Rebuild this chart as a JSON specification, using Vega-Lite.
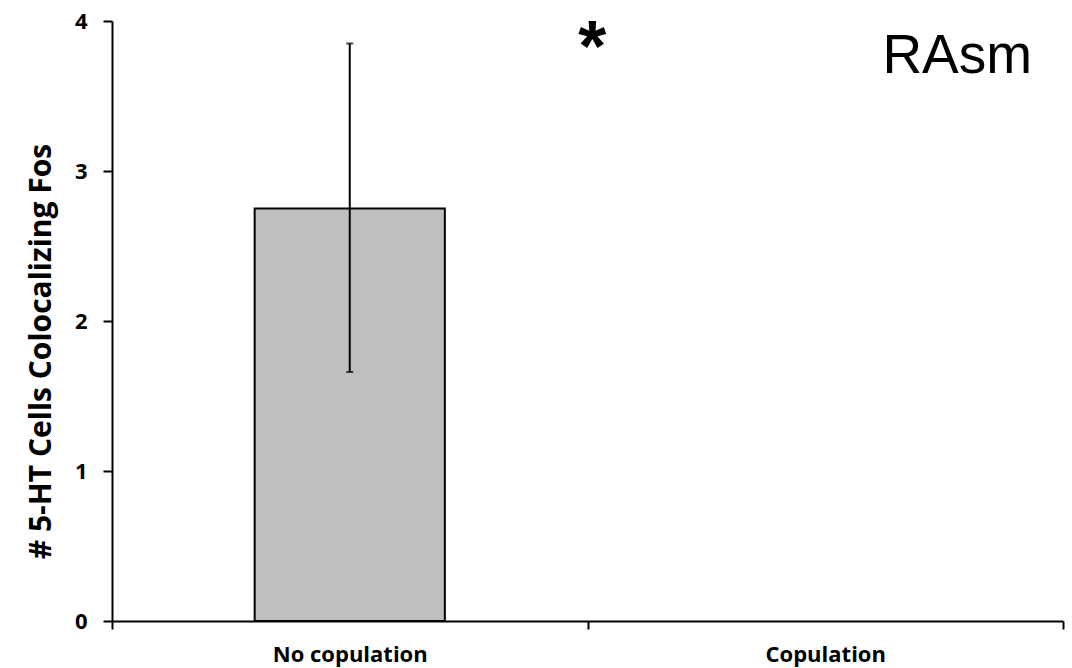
{
  "$schema": "https://vega.github.io/schema/vega-lite/v6.json",
  "width": 951,
  "height": 600,
  "autosize": {"type": "none"},
  "padding": {"left": 112, "top": 21, "right": 9, "bottom": 47},
  "background": "white",
  "config": {
    "view": {"stroke": null},
    "font": "Open Sans"
  },
  "data": {
    "values": [
      {"group": "No copulation", "mean": 2.75, "low": 1.66, "high": 3.85},
      {"group": "Copulation", "mean": 0, "low": 0, "high": 0}
    ]
  },
  "encoding": {
    "x": {
      "field": "group",
      "type": "nominal",
      "sort": ["No copulation", "Copulation"],
      "scale": {"paddingInner": 0, "paddingOuter": 0},
      "axis": {
        "title": null,
        "labelAngle": 0,
        "labelFont": "Open Sans",
        "labelFontWeight": "bold",
        "labelFontSize": 22,
        "labelColor": "black",
        "labelPadding": 15,
        "domainColor": "black",
        "domainWidth": 2,
        "tickColor": "black",
        "tickWidth": 2,
        "tickSize": 8,
        "tickBand": "extent"
      }
    }
  },
  "layer": [
    {
      "mark": {"type": "bar", "width": {"band": 0.4}, "fill": "#bfbfbf", "stroke": "black", "strokeWidth": 2},
      "transform": [{"filter": "datum.mean > 0"}],
      "encoding": {
        "y": {
          "field": "mean",
          "type": "quantitative",
          "scale": {"domain": [0, 4], "nice": false},
          "axis": {
            "title": "# 5-HT Cells Colocalizing Fos",
            "titleFont": "Open Sans",
            "titleFontWeight": "bold",
            "titleFontSize": 30,
            "titleColor": "black",
            "titleX": -56,
            "titleY": 330,
            "values": [0, 1, 2, 3, 4],
            "format": "d",
            "grid": false,
            "labelFont": "Open Sans",
            "labelFontWeight": "bold",
            "labelFontSize": 22,
            "labelColor": "black",
            "labelPadding": 16,
            "domainColor": "black",
            "domainWidth": 2,
            "tickColor": "black",
            "tickWidth": 2,
            "tickSize": 9
          }
        }
      }
    },
    {
      "mark": {"type": "rule", "color": "black", "strokeWidth": 2},
      "transform": [{"filter": "datum.mean > 0"}],
      "encoding": {
        "y": {"field": "low", "type": "quantitative"},
        "y2": {"field": "high"}
      }
    },
    {
      "mark": {"type": "tick", "color": "black", "thickness": 2, "size": 7},
      "transform": [{"filter": "datum.mean > 0"}],
      "encoding": {"y": {"field": "low", "type": "quantitative"}}
    },
    {
      "mark": {"type": "tick", "color": "black", "thickness": 2, "size": 7},
      "transform": [{"filter": "datum.mean > 0"}],
      "encoding": {"y": {"field": "high", "type": "quantitative"}}
    },
    {
      "data": {"values": [{"group": "Copulation", "label": "RAsm", "pos": 3.653}]},
      "mark": {"type": "text", "font": "Liberation Sans", "fontSize": 55, "align": "center", "baseline": "alphabetic", "dx": 132, "color": "black"},
      "encoding": {
        "x": {"field": "group", "type": "nominal"},
        "y": {"field": "pos", "type": "quantitative"},
        "text": {"field": "label"}
      }
    },
    {
      "data": {"values": [{"group": "Copulation", "label": "*", "pos": 3.667}]},
      "mark": {"type": "text", "font": "Liberation Sans", "fontWeight": "bold", "fontSize": 72, "align": "center", "baseline": "alphabetic", "dx": -233, "color": "black"},
      "encoding": {
        "x": {"field": "group", "type": "nominal"},
        "y": {"field": "pos", "type": "quantitative"},
        "text": {"field": "label"}
      }
    }
  ]
}
